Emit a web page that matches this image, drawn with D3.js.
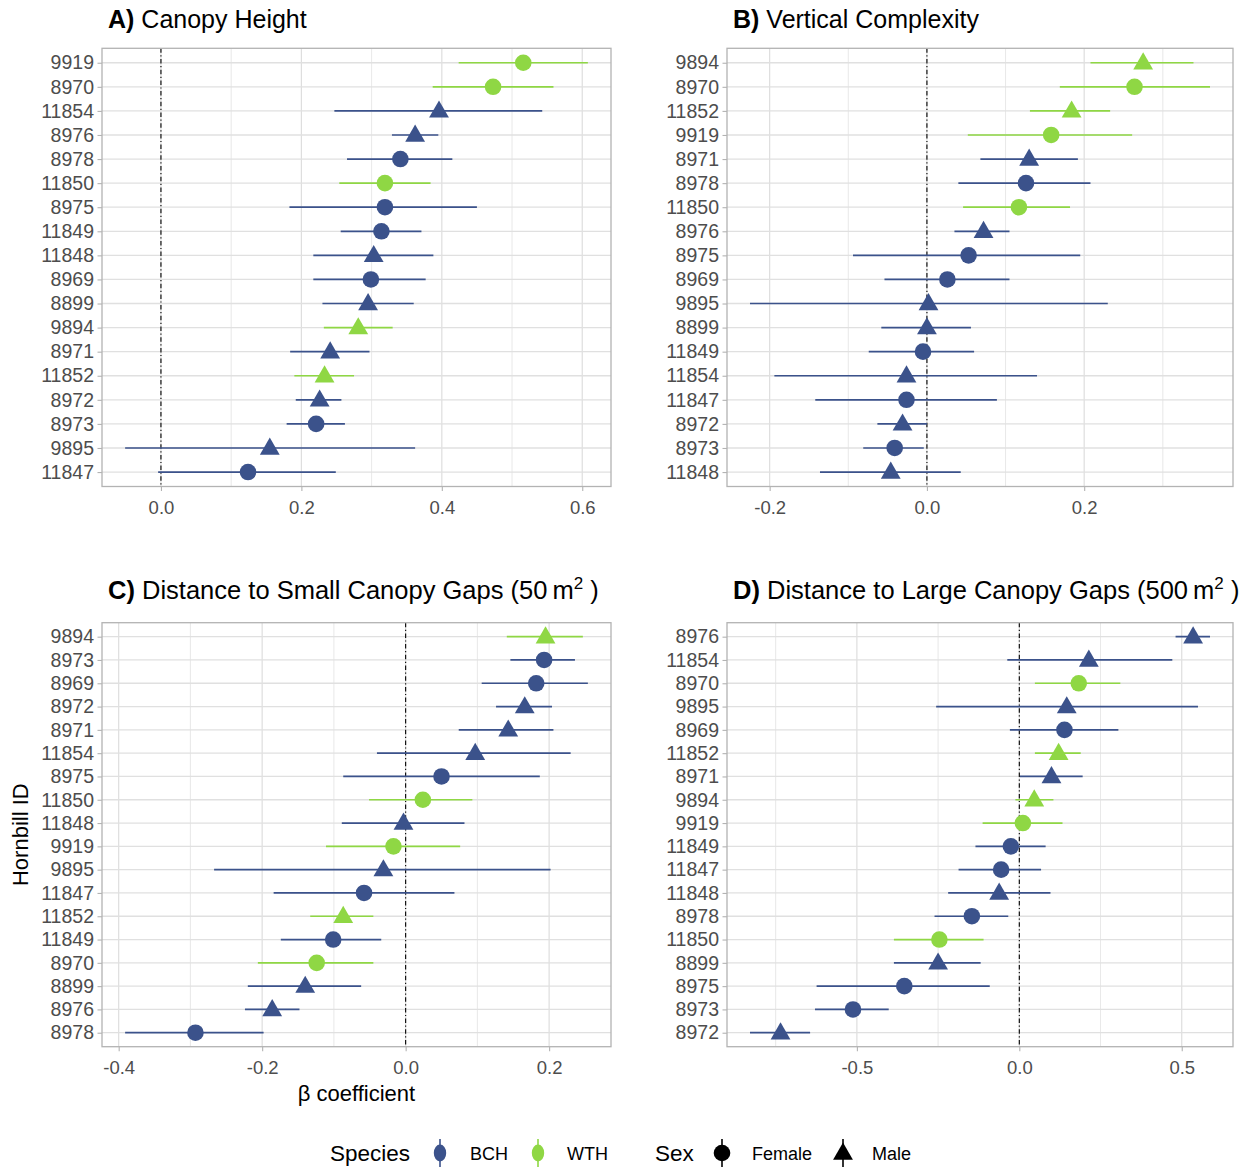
<!DOCTYPE html>
<html>
<head>
<meta charset="utf-8">
<script src="https://cdn.jsdelivr.net/npm/d3@7"></script>
<style>
  html, body { margin: 0; padding: 0; background: #fff; }
  svg { display: block; }
</style>
</head>
<body>
<svg id="chart" width="1254" height="1170"></svg>
<script>
// ---- Bird attributes ----
const birdIds     = ["8899","8969","8970","8971","8972","8973","8975","8976","8978","9894","9895","9919","11847","11848","11849","11850","11852","11854"];
const birdSpecies = ["BCH","BCH","WTH","BCH","BCH","BCH","BCH","BCH","BCH","WTH","BCH","WTH","BCH","BCH","BCH","WTH","WTH","BCH"];
const birdSex     = ["Male","Female","Female","Male","Male","Female","Female","Male","Female","Male","Male","Female","Female","Male","Female","Female","Male","Male"];

// ---- A) Canopy height (rows top to bottom) ----
const heightIds = ["9919","8970","11854","8976","8978","11850","8975","11849","11848","8969","8899","9894","8971","11852","8972","8973","9895","11847"];
const heightEst = [0.516,0.473,0.396,0.362,0.341,0.319,0.319,0.314,0.303,0.299,0.295,0.281,0.241,0.233,0.226,0.221,0.155,0.124];
const heightLo  = [0.424,0.387,0.247,0.329,0.265,0.254,0.183,0.256,0.217,0.217,0.230,0.232,0.184,0.190,0.192,0.179,-0.051,-0.004];
const heightHi  = [0.608,0.559,0.543,0.395,0.415,0.384,0.450,0.371,0.388,0.377,0.360,0.330,0.297,0.275,0.257,0.262,0.362,0.249];

// ---- B) Vertical complexity ----
const complexIds = ["9894","8970","11852","9919","8971","8978","11850","8976","8975","8969","9895","8899","11849","11854","11847","8972","8973","11848"];
const complexEst = [0.275,0.264,0.184,0.158,0.130,0.126,0.117,0.072,0.053,0.026,0.002,0.000,-0.005,-0.026,-0.026,-0.031,-0.041,-0.046];
const complexLo  = [0.208,0.169,0.131,0.052,0.068,0.040,0.046,0.035,-0.094,-0.054,-0.225,-0.058,-0.074,-0.194,-0.142,-0.063,-0.081,-0.136];
const complexHi  = [0.339,0.360,0.233,0.261,0.192,0.208,0.182,0.105,0.195,0.105,0.230,0.056,0.060,0.140,0.089,0.000,-0.004,0.043];

// ---- C) Distance to small canopy gaps (50 m2) ----
const smallGapIds = ["9894","8973","8969","8972","8971","11854","8975","11850","11848","9919","9895","11847","11852","11849","8970","8899","8976","8978"];
const smallGapEst = [0.195,0.193,0.182,0.166,0.143,0.097,0.050,0.024,-0.003,-0.017,-0.031,-0.058,-0.087,-0.101,-0.124,-0.140,-0.186,-0.293];
const smallGapLo  = [0.141,0.146,0.106,0.126,0.074,-0.040,-0.087,-0.051,-0.089,-0.111,-0.267,-0.184,-0.133,-0.174,-0.206,-0.220,-0.224,-0.391];
const smallGapHi  = [0.247,0.236,0.254,0.204,0.206,0.230,0.187,0.093,0.082,0.076,0.202,0.068,-0.045,-0.034,-0.045,-0.062,-0.148,-0.198];

// ---- D) Distance to large canopy gaps (500 m2) ----
const largeGapIds = ["8976","11854","8970","9895","8969","11852","8971","9894","9919","11849","11847","11848","8978","11850","8899","8975","8973","8972"];
const largeGapEst = [0.535,0.214,0.183,0.146,0.139,0.121,0.099,0.046,0.011,-0.026,-0.056,-0.062,-0.146,-0.246,-0.250,-0.354,-0.512,-0.735];
const largeGapLo  = [0.481,-0.037,0.048,-0.256,-0.029,0.048,0.002,-0.012,-0.113,-0.135,-0.187,-0.219,-0.261,-0.386,-0.386,-0.624,-0.629,-0.829];
const largeGapHi  = [0.587,0.471,0.311,0.550,0.305,0.189,0.195,0.105,0.133,0.081,0.067,0.096,-0.034,-0.110,-0.119,-0.091,-0.402,-0.644];

// ---- Axis ticks ----
const heightTicks    = [0, 0.2, 0.4, 0.6];
const heightMinor    = [0.1, 0.3, 0.5];
const complexTicks   = [-0.2, 0, 0.2];
const complexMinor   = [-0.1, 0.1, 0.3];
const smallGapTicks  = [-0.4, -0.2, 0, 0.2];
const smallGapMinor  = [-0.3, -0.1, 0.1];
const largeGapTicks  = [-0.5, 0, 0.5];
const largeGapMinor  = [-0.75, -0.25, 0.25];

// ---- Legend entries ----
const speciesLevels = ["BCH", "WTH"];
const sexLevels = ["Female", "Male"];

// ---- Styling ----
const FONT = "'Liberation Sans', Arial, Helvetica, sans-serif";
const speciesColor = d3.scaleOrdinal().domain(speciesLevels).range(["#3B528B", "#8FD744"]);
const circleArea = Math.PI * 8.3 * 8.3;
const triangleArea = 170;
const oneDecimal = d => d3.format(".1f")(d).replace("\u2212", "-");

const svg = d3.select("#chart");

const panels = [
  { key: "A", title: "Canopy Height", ids: heightIds, est: heightEst, lo: heightLo, hi: heightHi,
    ticks: heightTicks, minor: heightMinor,
    box: { x0: 102, x1: 611, y0: 48.3, y1: 486.5 }, titleY: 28 },
  { key: "B", title: "Vertical Complexity", ids: complexIds, est: complexEst, lo: complexLo, hi: complexHi,
    ticks: complexTicks, minor: complexMinor,
    box: { x0: 727, x1: 1233, y0: 48.3, y1: 486.5 }, titleY: 28 },
  { key: "C", title: "Distance to Small Canopy Gaps (50\u2009m", sup: "2", tail: " )", ids: smallGapIds, est: smallGapEst, lo: smallGapLo, hi: smallGapHi,
    ticks: smallGapTicks, minor: smallGapMinor,
    box: { x0: 102, x1: 611, y0: 622.7, y1: 1046.7 }, titleY: 599 },
  { key: "D", title: "Distance to Large Canopy Gaps (500\u2009m", sup: "2", tail: " )", ids: largeGapIds, est: largeGapEst, lo: largeGapLo, hi: largeGapHi,
    ticks: largeGapTicks, minor: largeGapMinor,
    box: { x0: 727, x1: 1233, y0: 622.7, y1: 1046.7 }, titleY: 599 }
];

function speciesOf(id) { return birdSpecies[birdIds.indexOf(id)]; }
function sexOf(id) { return birdSex[birdIds.indexOf(id)]; }

function symbolPath(sex) {
  return sex === "Male"
    ? d3.symbol(d3.symbolTriangle, triangleArea)()
    : d3.symbol(d3.symbolCircle, circleArea)();
}

panels.forEach(p => {
  const b = p.box;
  const rows = p.ids.map((id, i) => ({ id, est: p.est[i], lo: p.lo[i], hi: p.hi[i],
    species: speciesOf(id), sex: sexOf(id) }));

  // continuous axis with 5% expansion on each side
  const lo = d3.min(p.lo), hi = d3.max(p.hi);
  const pad = (hi - lo) * 0.05;
  const x = d3.scaleLinear().domain([lo - pad, hi + pad]).range([b.x0, b.x1]);
  const y = d3.scalePoint().domain(p.ids).range([b.y0, b.y1]).padding(0.6);

  const g = svg.append("g");

  // grid
  g.append("g").selectAll("line").data(p.minor).join("line")
    .attr("x1", d => x(d)).attr("x2", d => x(d)).attr("y1", b.y0).attr("y2", b.y1)
    .attr("stroke", "#e2e2e2").attr("stroke-width", 0.8);
  g.append("g").selectAll("line").data(p.ticks).join("line")
    .attr("x1", d => x(d)).attr("x2", d => x(d)).attr("y1", b.y0).attr("y2", b.y1)
    .attr("stroke", "#dedede").attr("stroke-width", 1.2);
  g.append("g").selectAll("line").data(p.ids).join("line")
    .attr("x1", b.x0).attr("x2", b.x1).attr("y1", d => y(d)).attr("y2", d => y(d))
    .attr("stroke", "#e0e0e0").attr("stroke-width", 1.3);

  // zero reference
  g.append("line")
    .attr("x1", x(0)).attr("x2", x(0)).attr("y1", b.y0).attr("y2", b.y1)
    .attr("stroke", "#000").attr("stroke-width", 1.1)
    .attr("stroke-dasharray", "4.5 2.5 1.2 2.5");

  // point ranges
  const pr = g.append("g").selectAll("g").data(rows).join("g");
  pr.append("line")
    .attr("x1", d => x(d.lo)).attr("x2", d => x(d.hi))
    .attr("y1", d => y(d.id)).attr("y2", d => y(d.id))
    .attr("stroke", d => speciesColor(d.species)).attr("stroke-width", 1.7);
  pr.append("path")
    .attr("d", d => symbolPath(d.sex))
    .attr("transform", d => `translate(${x(d.est)},${y(d.id) + (d.sex === "Male" ? 1 : 0)})`)
    .attr("fill", d => speciesColor(d.species));

  // panel border
  g.append("rect")
    .attr("x", b.x0).attr("y", b.y0).attr("width", b.x1 - b.x0).attr("height", b.y1 - b.y0)
    .attr("fill", "none").attr("stroke", "#b3b3b3").attr("stroke-width", 1.3);

  // axes
  const xAxis = g.append("g").attr("transform", `translate(0,${b.y1})`)
    .call(d3.axisBottom(x).tickValues(p.ticks).tickFormat(oneDecimal).tickSize(4.5).tickPadding(10));
  const yAxis = g.append("g").attr("transform", `translate(${b.x0},0)`)
    .call(d3.axisLeft(y).tickSize(4.5).tickPadding(3.5));
  [xAxis, yAxis].forEach(ax => {
    ax.select(".domain").remove();
    ax.selectAll(".tick line").attr("stroke", "#b3b3b3").attr("stroke-width", 1.1);
    ax.selectAll(".tick text").attr("fill", "#4d4d4d").style("font-family", FONT);
  });
  xAxis.selectAll(".tick text").style("font-size", "18.5px");
  yAxis.selectAll(".tick text").style("font-size", "19.5px");

  // title
  const t = svg.append("text").attr("x", b.x0 + 6).attr("y", p.titleY)
    .style("font-family", FONT).style("font-size", p.sup ? "25.5px" : "25px").attr("fill", "#000");
  t.append("tspan").style("font-weight", "bold").text(p.key + ")");
  t.append("tspan").text(" " + p.title);
  if (p.sup) {
    t.append("tspan").attr("dy", -10).style("font-size", "17px").text(p.sup);
    t.append("tspan").attr("dy", 10).text(p.tail);
  }
});

// axis titles
svg.append("text")
  .attr("x", 356.5).attr("y", 1101)
  .attr("text-anchor", "middle")
  .style("font-family", FONT).style("font-size", "22px").attr("fill", "#000")
  .text("β coefficient");
svg.append("text")
  .attr("transform", "translate(28,834.7) rotate(-90)")
  .attr("text-anchor", "middle")
  .style("font-family", FONT).style("font-size", "22px").attr("fill", "#000")
  .text("Hornbill ID");

// legend
const legY = 1153;
const leg = svg.append("g").style("font-family", FONT);
leg.append("text").attr("x", 330).attr("y", legY + 8).style("font-size", "22.5px").text("Species");
leg.append("text").attr("x", 655).attr("y", legY + 8).style("font-size", "22.5px").text("Sex");

const speciesKeyX = [440, 538];
const speciesLabelX = [470, 567];
speciesLevels.forEach((s, i) => {
  const kx = speciesKeyX[i];
  leg.append("line").attr("x1", kx).attr("x2", kx).attr("y1", legY - 14).attr("y2", legY + 14)
    .attr("stroke", speciesColor(s)).attr("stroke-width", 1.6);
  leg.append("ellipse").attr("cx", kx).attr("cy", legY).attr("rx", 6.2).attr("ry", 8.5)
    .attr("fill", speciesColor(s));
  leg.append("text").attr("x", speciesLabelX[i]).attr("y", legY + 7).style("font-size", "18px").text(s);
});

const sexKeyX = [722, 843];
const sexLabelX = [752, 872];
sexLevels.forEach((s, i) => {
  const kx = sexKeyX[i];
  leg.append("line").attr("x1", kx).attr("x2", kx).attr("y1", legY - 14).attr("y2", legY + 14)
    .attr("stroke", "#000").attr("stroke-width", 1.6);
  leg.append("path").attr("d", symbolPath(s))
    .attr("transform", `translate(${kx},${legY + (s === "Male" ? 1 : 0)})`)
    .attr("fill", "#000");
  leg.append("text").attr("x", sexLabelX[i]).attr("y", legY + 7).style("font-size", "18px").text(s);
});
</script>
</body>
</html>
